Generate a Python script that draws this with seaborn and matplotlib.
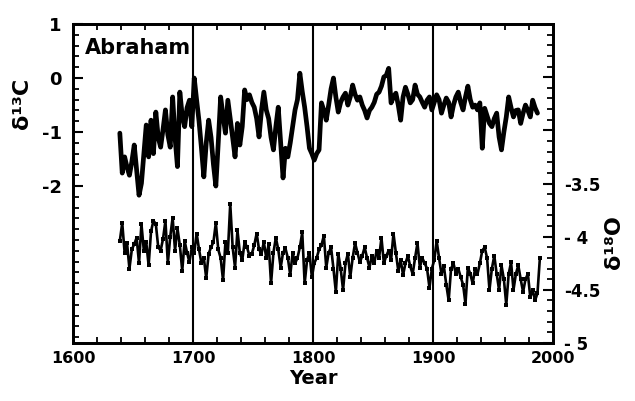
import matplotlib
matplotlib.use("Agg")
import matplotlib.pyplot as plt
import seaborn as sns
import pandas as pd

# δ13C (left axis), one reading every 2 years from 1639
c13 = [-1.02, -1.76, -1.46, -1.65, -1.80, -1.55, -1.24, -1.70, -2.17, -1.95,
       -1.40, -0.87, -1.46, -0.78, -1.40, -0.63, -1.10, -1.28, -0.95, -0.59,
       -1.05, -1.28, -0.35, -1.10, -1.64, -0.26, -0.70, -0.90, -0.55, -0.41,
       -0.90, 0.00, -0.41, -0.80, -1.30, -1.83, -1.20, -0.78, -1.10, -1.60,
       -2.00, -1.20, -0.35, -0.70, -1.02, -0.41, -0.75, -1.10, -1.46, -0.84,
       -1.24, -0.90, -0.22, -0.40, -0.31, -0.45, -0.54, -0.75, -1.09, -0.60,
       -0.26, -0.59, -0.75, -1.10, -1.33, -0.90, -0.54, -1.20, -1.85, -1.30,
       -1.46, -1.20, -0.90, -0.59, -0.40, 0.09, -0.25, -0.54, -0.90, -1.30,
       -1.40, -1.52, -1.40, -1.33, -0.46, -0.60, -0.78, -0.50, -0.20, 0.00,
       -0.35, -0.63, -0.45, -0.35, -0.28, -0.50, -0.35, -0.13, -0.30, -0.41,
       -0.35, -0.50, -0.60, -0.74, -0.60, -0.54, -0.45, -0.30, -0.26, -0.15,
       0.02, 0.05, 0.18, -0.46, -0.35, -0.28, -0.50, -0.78, -0.35, -0.17,
       -0.30, -0.46, -0.40, -0.13, -0.30, -0.35, -0.45, -0.54, -0.41, -0.35,
       -0.59, -0.45, -0.31, -0.40, -0.65, -0.50, -0.37, -0.45, -0.72, -0.50,
       -0.35, -0.26, -0.45, -0.59, -0.35, -0.15, -0.40, -0.54, -0.50, -0.59,
       -0.46, -1.30, -0.56, -0.70, -0.84, -0.90, -0.75, -0.65, -1.09, -1.33,
       -1.00, -0.72, -0.35, -0.55, -0.72, -0.60, -0.59, -0.84, -0.65, -0.50,
       -0.60, -0.72, -0.41, -0.55, -0.65]
anos_c13 = [1639 + 2 * i for i in range(len(c13))]

# δ18O (right axis), one reading every 2 years from 1639
o18 = [-4.04, -3.87, -4.15, -4.06, -4.30, -4.12, -4.07, -4.01, -4.25, -3.88,
       -4.13, -4.05, -4.27, -3.95, -3.85, -3.88, -4.10, -4.13, -4.02, -3.85,
       -4.25, -4.00, -3.82, -4.13, -3.92, -4.08, -4.32, -4.04, -4.15, -4.24,
       -4.10, -4.15, -3.97, -4.12, -4.25, -4.20, -4.39, -4.16, -4.10, -4.05,
       -3.87, -4.12, -4.20, -4.41, -4.05, -4.15, -3.69, -4.10, -4.29, -3.94,
       -4.15, -4.22, -4.05, -4.10, -4.18, -4.16, -4.08, -3.97, -4.12, -4.16,
       -4.05, -4.20, -4.07, -4.44, -4.15, -4.01, -4.12, -4.29, -4.15, -4.11,
       -4.20, -4.36, -4.15, -4.25, -4.20, -4.10, -3.96, -4.44, -4.22, -4.15,
       -4.38, -4.25, -4.20, -4.12, -4.08, -3.99, -4.29, -4.15, -4.10, -4.30,
       -4.52, -4.16, -4.30, -4.50, -4.25, -4.16, -4.38, -4.20, -4.06, -4.15,
       -4.24, -4.18, -4.10, -4.20, -4.29, -4.18, -4.25, -4.13, -4.20, -4.01,
       -4.25, -4.18, -4.13, -4.22, -3.97, -4.15, -4.32, -4.22, -4.36, -4.25,
       -4.18, -4.28, -4.35, -4.20, -4.06, -4.29, -4.20, -4.25, -4.30, -4.48,
       -4.30, -4.22, -4.04, -4.20, -4.35, -4.28, -4.45, -4.60, -4.30, -4.25,
       -4.35, -4.30, -4.38, -4.45, -4.63, -4.29, -4.35, -4.44, -4.30, -4.35,
       -4.25, -4.13, -4.10, -4.20, -4.50, -4.30, -4.18, -4.35, -4.50, -4.27,
       -4.40, -4.64, -4.35, -4.24, -4.50, -4.35, -4.27, -4.40, -4.52, -4.40,
       -4.35, -4.57, -4.50, -4.60, -4.53, -4.20]
anos_o18 = [1639 + 2 * i for i in range(len(o18))]

linhas_seculo = [1700, 1800, 1900]

sns.set_style("ticks")
plt.rcParams["font.family"] = ["DejaVu Sans"]
plt.rcParams["font.weight"] = "bold"
for chave in ["text.color", "axes.labelcolor", "xtick.color", "ytick.color",
              "axes.edgecolor"]:
    plt.rcParams[chave] = "black"

fig = plt.figure(figsize=(6.35, 4.01), dpi=100)
ax = fig.add_axes([0.115, 0.1446, 0.756, 0.7954])
ax2 = ax.twinx()

df_c = pd.DataFrame({"ano": anos_c13, "valor": c13})
df_o = pd.DataFrame({"ano": anos_o18, "valor": o18})

sns.lineplot(data=df_c, x="ano", y="valor", ax=ax, color="black", linewidth=3.4)
sns.lineplot(data=df_o, x="ano", y="valor", ax=ax2, color="black", linewidth=1.9,
             marker="s", markersize=2.4, markeredgewidth=0)

for x in linhas_seculo:
    ax.axvline(x, color="black", linewidth=1.5)

ax.set_xlim(1600, 2000)
ax.set_ylim(-4.907, 1)
ax2.set_ylim(-5, -2.02)

ax.set_xticks([1600, 1700, 1800, 1900, 2000])
ax.set_xticks(range(1600, 2001, 20), minor=True)
ax.set_yticks([1, 0, -1, -2])
ax.set_yticklabels(["1", "0", "-1", "-2"])
ax.set_yticks([v / 5 for v in range(-24, 6)], minor=True)
ax2.set_yticks([-2.5, -3, -3.5, -4, -4.5, -5])
ax2.set_yticklabels(["", "", "-3.5", "- 4", "-4.5", "- 5"])
ax2.set_yticks([v / 10 for v in range(-50, -19)], minor=True)

ax.tick_params(axis="x", which="both", direction="in", top=True, width=1.3,
               labelsize=11.5, pad=6)
ax.tick_params(axis="x", which="major", length=0)
ax.tick_params(axis="x", which="minor", length=4)
ax.tick_params(axis="y", which="major", direction="in", length=7, width=1.5,
               labelsize=13, pad=8)
ax.tick_params(axis="y", which="minor", direction="in", length=4, width=1.3)
ax2.tick_params(axis="y", which="major", direction="in", length=7, width=1.5,
                labelsize=12, pad=8)
ax2.tick_params(axis="y", which="minor", direction="in", length=4, width=1.3)

for a in (ax, ax2):
    for s in a.spines.values():
        s.set_linewidth(2)
        s.set_color("black")
        s.set_visible(True)

ax.set_xlabel("Year", fontsize=14, fontweight="bold", labelpad=2)
ax.set_ylabel("")
ax2.set_ylabel("")
fig.text(0.035, 0.743, "δ¹³C", rotation=90, fontsize=16, fontweight="bold",
         ha="center", va="center")
fig.text(0.967, 0.396, "δ¹⁸O", rotation=90, fontsize=16, fontweight="bold",
         ha="center", va="center")
ax.text(1610, 0.565, "Abraham", fontsize=15, fontweight="bold", va="center")

fig.savefig("out.png", dpi=100)
plt.close(fig)
